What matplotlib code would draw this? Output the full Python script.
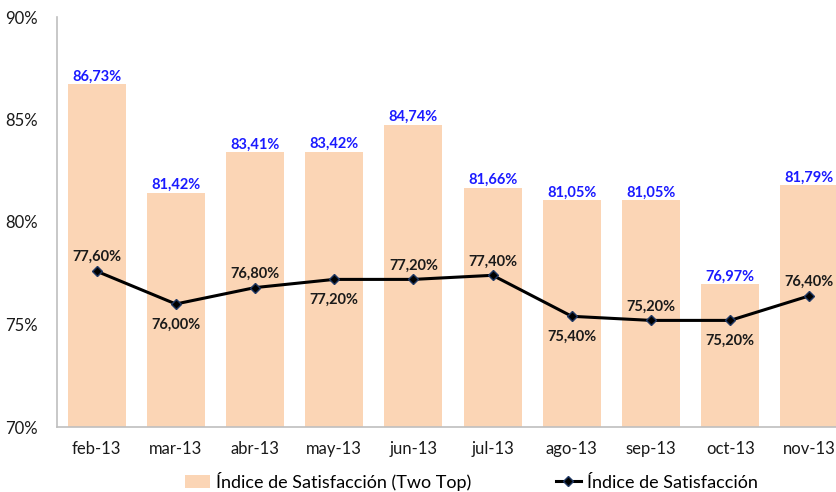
import numpy as np
import matplotlib.pyplot as plt

months = ["feb-13", "mar-13", "abr-13", "may-13", "jun-13",
          "jul-13", "ago-13", "sep-13", "oct-13", "nov-13"]
two_top = [86.73, 81.42, 83.41, 83.42, 84.74, 81.66, 81.05, 81.05, 76.97, 81.79]
indice = [77.60, 76.00, 76.80, 77.20, 77.20, 77.40, 75.40, 75.20, 75.20, 76.40]
# where each line label sits relative to its point
label_above = [True, False, True, False, True, True, False, True, False, True]

plt.rcParams['font.family'] = ['Lato', 'DejaVu Sans']

fig = plt.figure(figsize=(8.37, 4.92), dpi=100)
ax = fig.add_axes([57 / 837, 65 / 492, 792 / 837, 410 / 492])

x = np.arange(len(months))
bars = ax.bar(x, two_top, width=0.73, color="#FBD5B5",
              label="Índice de Satisfacción (Two Top)", zorder=1)
line, = ax.plot(x, indice, color="black", lw=2.2, marker="D", ms=5,
                markeredgecolor="#1F3864", markerfacecolor="black",
                label="Índice de Satisfacción", zorder=3)

def pct(v):
    return f"{v:.2f}%".replace(".", ",")

for xi, v in zip(x, two_top):
    ax.annotate(pct(v), (xi, v), xytext=(0, 0.5), textcoords="offset points",
                ha="center", va="bottom", color="#1A1AFF",
                fontsize=10.5, fontweight="bold", zorder=4)

for xi, v, up in zip(x, indice, label_above):
    ax.annotate(pct(v), (xi, v), xytext=(0, 5 if up else -10),
                textcoords="offset points", ha="center",
                va="bottom" if up else "top", color="#1a1a1a",
                fontsize=10.5, fontweight="bold")

ax.set_ylim(70, 90)
ax.set_xlim(-0.5, len(months) - 0.5)
ax.set_yticks([70, 75, 80, 85, 90])
ax.set_yticklabels([f"{t}%" for t in [70, 75, 80, 85, 90]])
ax.set_xticks(x)
ax.set_xticklabels(months)
ax.tick_params(length=0, labelsize=12, colors="#1a1a1a")
ax.tick_params(axis="x", pad=10)
ax.tick_params(axis="y", pad=14)

for s in ["top", "right"]:
    ax.spines[s].set_visible(False)
for s in ["left", "bottom"]:
    ax.spines[s].set_color("#BFBFBF")
    ax.spines[s].set_linewidth(1.2)

fig.legend(handles=[bars, line], loc="lower center",
           bbox_to_anchor=(0.563, -0.03), ncol=2, frameon=False,
           fontsize=13, columnspacing=4.7, handlelength=1.4,
           handletextpad=0.3)

fig.savefig("out.png", dpi=100)
